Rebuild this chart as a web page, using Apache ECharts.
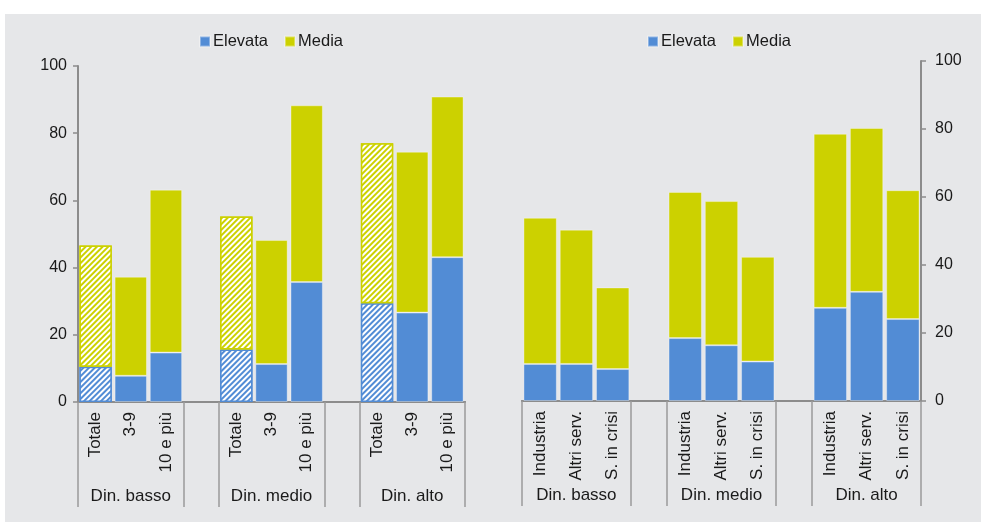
<!DOCTYPE html>
<html>
<head>
<meta charset="utf-8">
<script src="https://cdn.jsdelivr.net/npm/echarts@6/dist/echarts.min.js"></script>
<style>
html, body { margin: 0; padding: 0; background: #ffffff; }
#panel { position: absolute; left: 5px; top: 14px; width: 976px; height: 508px; background: #e6e7e9; }
#echart { position: absolute; left: 0; top: 0; width: 981px; height: 527px; }
</style>
</head>
<body>
<div id="panel"></div>
<div id="echart"></div>
<script>
// --- data -------------------------------------------------------------
var leftCats = ['Totale', '3-9', '10 e più', '', 'Totale', '3-9', '10 e più', '', 'Totale', '3-9', '10 e più'];
var rightCats = ['Industria', 'Altri serv.', 'S. in crisi', '', 'Industria', 'Altri serv.', 'S. in crisi', '', 'Industria', 'Altri serv.', 'S. in crisi'];
var groupLabels = ['', 'Din. basso', '', '', '', 'Din. medio', '', '', '', 'Din. alto', ''];

var leftElevata = [10.5, 7.8, 14.7, null, 15.6, 11.3, 35.7, null, 29.4, 26.6, 43.1];
var leftMedia = [36.1, 29.5, 48.5, null, 39.6, 36.9, 52.6, null, 47.6, 47.9, 47.8];
var rightElevata = [10.9, 10.9, 9.4, null, 18.5, 16.4, 11.6, null, 27.4, 32.1, 24.1];
var rightMedia = [43.0, 39.5, 24.0, null, 43.0, 42.4, 30.8, null, 51.2, 48.2, 37.9];

var hatchedIdx = [0, 4, 8];      // "Totale" bars drawn with stripes
var groupEdges = [0, 3, 4, 7, 8]; // tick positions between groups

var blue = '#528cd5';
var yellow = '#ccd100';
var axisGrey = '#8c8c8c';
var font = 'Liberation Sans, Arial, sans-serif';

// --- helpers ----------------------------------------------------------
function toData(values, color, hatched) {
	return values.map(function (v, i) {
		if (v === null) return '-';
		if (hatched && hatchedIdx.indexOf(i) >= 0) {
			return {
				value: v,
				itemStyle: {
					borderColor: color,
					borderWidth: 1.5,
					decal: {
						symbol: 'rect',
						symbolSize: 1,
						color: '#ffffff',
						dashArrayX: [1, 0],
						dashArrayY: [2, 1.5],
						rotation: -Math.PI / 4
					}
				}
			};
		}
		return v;
	});
}

function catAxis(gridIndex, cats) {
	return {
		type: 'category',
		gridIndex: gridIndex,
		position: 'bottom',
		data: cats,
		axisLine: { show: true, lineStyle: { color: axisGrey, width: 2 } },
		axisTick: { show: false },
		axisLabel: {
			interval: 0,
			rotate: 90,
			margin: 10,
			color: '#1a1a1a',
			fontFamily: font,
			fontSize: 17
		}
	};
}

function groupAxis(gridIndex) {
	return {
		type: 'category',
		gridIndex: gridIndex,
		position: 'bottom',
		data: groupLabels,
		axisLine: { show: true, lineStyle: { color: axisGrey, width: 2 } },
		axisTick: {
			show: true,
			length: 105,
			interval: function (index) { return groupEdges.indexOf(index) >= 0; },
			lineStyle: { color: '#9a9a9a', width: 1.5 }
		},
		axisLabel: {
			interval: 0,
			margin: 86,
			color: '#1a1a1a',
			fontFamily: font,
			fontSize: 17
		}
	};
}

function valAxis(gridIndex, pos, margin) {
	return {
		type: 'value',
		gridIndex: gridIndex,
		position: pos,
		min: 0,
		max: 100,
		interval: 20,
		splitLine: { show: false },
		axisLine: { show: true, lineStyle: { color: axisGrey, width: 2 } },
		axisTick: { show: true, length: 5, lineStyle: { color: axisGrey, width: 1.5 } },
		axisLabel: { margin: margin, color: '#1a1a1a', fontFamily: font, fontSize: 16 }
	};
}

function barSeries(name, axisIdx, stack, data, color) {
	return {
		name: name,
		type: 'bar',
		stack: stack,
		xAxisIndex: axisIdx,
		yAxisIndex: axisIdx / 2,
		barCategoryGap: '8%',
		itemStyle: { color: color, borderColor: 'rgba(255,255,255,0.35)', borderWidth: 1 },
		data: data
	};
}

function legendAt(left) {
	return {
		left: left,
		top: 28,
		icon: 'rect',
		itemWidth: 10,
		itemHeight: 10,
		itemGap: 16,
		selectedMode: false,
		data: ['Elevata', 'Media'],
		textStyle: { color: '#1a1a1a', fontFamily: font, fontSize: 16.5, padding: [0, 0, 0, -2] }
	};
}

// --- chart ------------------------------------------------------------
var eChart = echarts.init(document.getElementById('echart'));

var eChartOption = {
	animation: false,
	backgroundColor: 'transparent',
	legend: [legendAt(194), legendAt(642)],
	grid: [
		{ left: 78, top: 66, width: 387, height: 336 },
		{ left: 522, top: 61, width: 399, height: 340 }
	],
	xAxis: [catAxis(0, leftCats), groupAxis(0), catAxis(1, rightCats), groupAxis(1)],
	yAxis: [valAxis(0, 'left', 11), valAxis(1, 'right', 14)],
	series: [
		barSeries('Elevata', 0, 'L', toData(leftElevata, blue, true), blue),
		barSeries('Media', 0, 'L', toData(leftMedia, yellow, true), yellow),
		barSeries('Elevata', 2, 'R', toData(rightElevata, blue, false), blue),
		barSeries('Media', 2, 'R', toData(rightMedia, yellow, false), yellow)
	]
};

eChart.setOption(eChartOption);
</script>
</body>
</html>
